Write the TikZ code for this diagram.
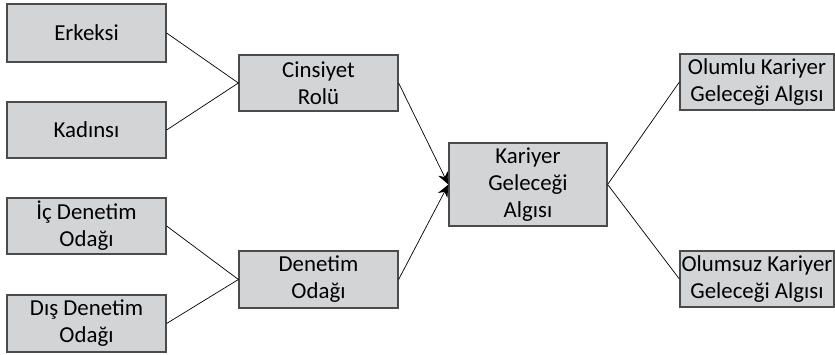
\documentclass[tikz,border=0pt]{standalone}
\usepackage{fontspec}
\setmainfont{Carlito}
\usetikzlibrary{arrows.meta}
\definecolor{boxfill}{RGB}{211,212,214}
\definecolor{boxline}{RGB}{75,75,75}
\begin{document}
\begin{tikzpicture}[every node/.style={draw=boxline, fill=boxfill, line width=0.7pt, minimum width=3.18cm, minimum height=1.14cm, inner xsep=0pt, inner ysep=1pt, align=center, font=\fontsize{13}{15.4}\selectfont}]
        \useasboundingbox (0,0) rectangle (16.7,-7.1);
        \node (erkeksi) at (1.73,-0.66) [minimum height=1.16cm] {Erkeksi};
        \node (kadinsi) at (1.73,-2.60) [minimum height=1.12cm] {Kadınsı};
        \node (cinsiyet) at (6.37,-1.66) [minimum height=1.12cm] {Cinsiyet\\Rolü};
        \node (icdenetim) at (1.73,-4.52) [minimum height=1.12cm] {İç Denetim\\Odağı};
        \node (disdenetim) at (1.73,-6.47) {Dış Denetim\\Odağı};
        \node (denetim) at (6.37,-5.59) {Denetim\\Odağı};
        \node (kariyer) at (10.56,-3.69) [minimum width=3.16cm, minimum height=1.66cm] {Kariyer\\Geleceği\\Algısı};
        \node (olumlu) at (15.14,-1.64) [minimum width=3.08cm, minimum height=1.12cm] {Olumlu Kariyer\\Geleceği Algısı};
        \node (olumsuz) at (15.14,-5.58) [minimum width=3.08cm, minimum height=1.12cm] {Olumsuz Kariyer\\Geleceği Algısı};
        \foreach \i/\j in {erkeksi/cinsiyet, kadinsi/cinsiyet, icdenetim/denetim, disdenetim/denetim, kariyer/olumlu, kariyer/olumsuz}
            \draw[line width=0.4pt] (\i.east) -- (\j.west);
        \foreach \i in {cinsiyet, denetim}
            \draw[line width=0.4pt, -{Stealth[length=7pt, width=6pt]}] (\i.east) -- (kariyer.west);
    \end{tikzpicture}
\end{document}
